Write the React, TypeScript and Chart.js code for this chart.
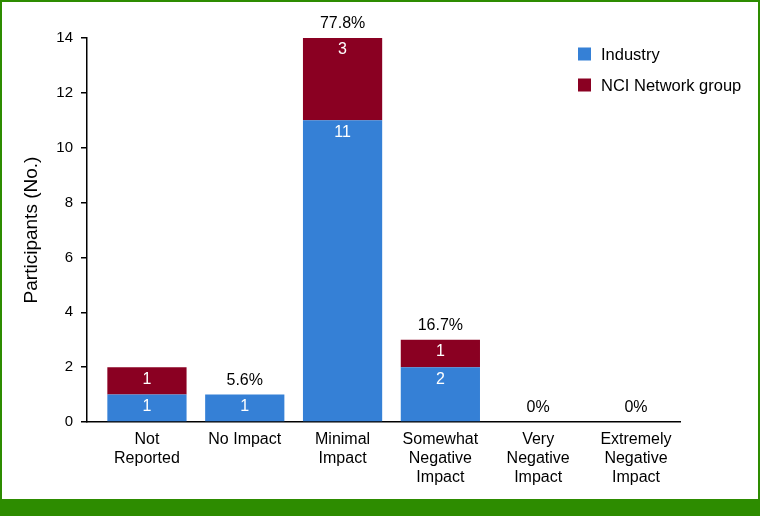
import React, { useEffect, useRef } from "react";
import { Chart, registerables } from "chart.js";

Chart.register(...registerables);

const categories: string[][] = [
  ["Not", "Reported"],
  ["No Impact"],
  ["Minimal", "Impact"],
  ["Somewhat", "Negative", "Impact"],
  ["Very", "Negative", "Impact"],
  ["Extremely", "Negative", "Impact"],
];
const industry = [1, 1, 11, 2, 0, 0];
const nciNetwork = [1, 0, 3, 1, 0, 0];
const percentLabels = ["", "5.6%", "77.8%", "16.7%", "0%", "0%"];
const yTicks = [0, 2, 4, 6, 8, 10, 12, 14];

const BLUE = "#3580D6";
const MAROON = "#8A0022";
const GREEN = "#2D8C00";
const FONT = "'Liberation Sans', Arial, sans-serif";

const labelsPlugin = {
  id: "barLabels",
  afterDatasetsDraw(chart: any) {
    const ctx = chart.ctx;
    ctx.save();
    ctx.font = `16px ${FONT}`;
    ctx.textAlign = "center";
    ctx.textBaseline = "middle";
    chart.data.datasets.forEach((ds: any, di: number) => {
      const meta = chart.getDatasetMeta(di);
      meta.data.forEach((el: any, i: number) => {
        const v = ds.data[i].y;
        if (!v) return;
        ctx.fillStyle = "#ffffff";
        ctx.fillText(String(v), el.x, el.y + 12);
      });
    });
    const yScale = chart.scales.y;
    const xScale = chart.scales.x;
    ctx.fillStyle = "#000000";
    percentLabels.forEach((lab, i) => {
      if (!lab) return;
      const total = industry[i] + nciNetwork[i];
      const y = yScale.getPixelForValue(total);
      const x = xScale.getPixelForValue(i);
      ctx.fillText(lab, x, y - 14);
    });
    // legend
    const items = [
      { text: "Industry", color: BLUE, y: 54 },
      { text: "NCI Network group", color: MAROON, y: 85 },
    ];
    ctx.font = `16.5px ${FONT}`;
    ctx.textAlign = "left";
    items.forEach((it) => {
      ctx.fillStyle = it.color;
      ctx.fillRect(578, it.y - 6.5, 13, 13);
      ctx.fillStyle = "#000000";
      ctx.fillText(it.text, 601, it.y + 1);
    });
    ctx.restore();
  },
};

export default function App() {
  const ref = useRef<HTMLCanvasElement | null>(null);
  useEffect(() => {
    document.body.style.margin = "0";
    if (!ref.current) return;
    const chart = new Chart(ref.current, {
      type: "bar",
      data: {
        datasets: [
          { label: "Industry", data: industry.map((v, i) => ({ x: i, y: v })), backgroundColor: BLUE, barPercentage: 0.81, categoryPercentage: 1 },
          { label: "NCI Network group", data: nciNetwork.map((v, i) => ({ x: i, y: v })), backgroundColor: MAROON, barPercentage: 0.81, categoryPercentage: 1 },
        ],
      },
      options: {
        animation: false,
        responsive: false,
        maintainAspectRatio: false,
        layout: { padding: { top: 38, right: 80, left: 0, bottom: 0 } },
        plugins: { legend: { display: false }, tooltip: { enabled: false } },
        scales: {
          x: {
            type: "linear",
            stacked: true,
            offset: false,
            min: -0.613,
            max: 5.45,
            afterBuildTicks: (s: any) => { s.ticks = categories.map((_, i) => ({ value: i })); },
            grid: { display: false, drawTicks: false },
            border: { display: true, color: "#000", width: 1.5 },
            ticks: {
              color: "#000",
              font: { family: FONT, size: 16, lineHeight: 1.2 },
              padding: 8,
              maxRotation: 0,
              autoSkip: false,
              callback: (v: any) => categories[Math.round(Number(v))] ?? "",
            },
            afterFit: (s: any) => { s.height = 516 - 422; },
          },
          y: {
            stacked: true,
            min: 0,
            max: 14,
            afterBuildTicks: (s: any) => { s.ticks = yTicks.map((v) => ({ value: v })); },
            grid: { drawOnChartArea: false, drawTicks: true, tickLength: 6, color: "#000", lineWidth: 1.5 },
            border: { display: true, color: "#000", width: 1.5 },
            ticks: { color: "#000", font: { family: FONT, size: 15 }, padding: 8 },
            title: { display: true, text: "Participants (No.)", color: "#000", font: { family: FONT, size: 19 }, padding: { top: 20, bottom: 0 } },
            afterFit: (s: any) => { s.width = 87; },
          },
        },
      },
      plugins: [labelsPlugin],
    });
    return () => chart.destroy();
  }, []);
  return (
    <div style={{ position: "relative", width: 760, height: 516, background: GREEN, overflow: "hidden" }}>
      <div style={{ position: "absolute", left: 2, top: 2, width: 756, height: 497, background: "#fff" }} />
      <canvas ref={ref} width={760} height={516} style={{ position: "absolute", left: 0, top: 0, width: 760, height: 516 }} />
    </div>
  );
}
